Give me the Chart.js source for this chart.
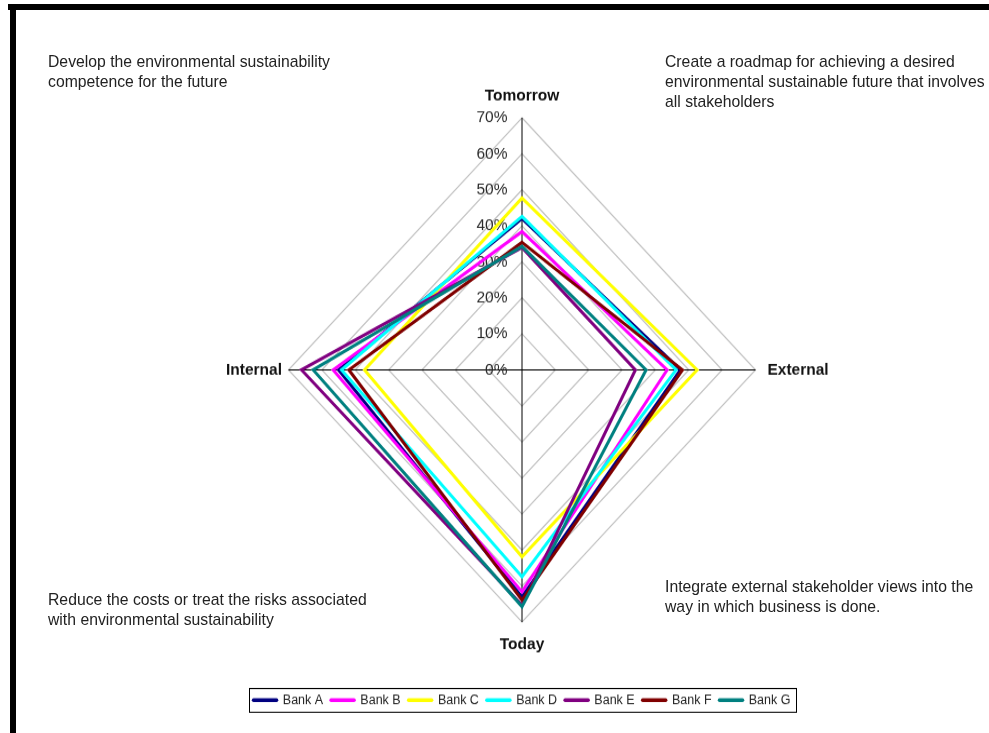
<!DOCTYPE html>
<html>
<head>
<meta charset="utf-8">
<title>Environmental sustainability orientation by bank</title>
<script src="https://cdn.jsdelivr.net/npm/chart.js@4/dist/chart.umd.min.js"></script>
<style>
  html, body { margin: 0; padding: 0; background: #fff; }
  body { width: 989px; height: 733px; position: relative; overflow: hidden;
         font-family: "Liberation Sans", Arial, sans-serif; }
  .frame-top  { position: absolute; left: 8px;  top: 4px; width: 981px; height: 6px; background: #000; }
  .frame-left { position: absolute; left: 10px; top: 4px; width: 6px; height: 729px; background: #000; }
  /* the whole figure is drawn slightly taller than wide */
  #stage { position: absolute; left: 0; top: 0; width: 989px; height: 679px;
           transform: scaleY(1.08); transform-origin: 0 0; }
  #stage canvas { position: absolute; left: 0; top: 0; }
  .note { position: absolute; font-size: 15.75px; line-height: 18.52px; color: #222; white-space: nowrap; }
</style>
</head>
<body>
<div class="frame-top"></div>
<div class="frame-left"></div>
<div id="stage">
  <canvas id="radar" width="989" height="679"></canvas>
  <div class="note" style="left:48px; top:48px;">Develop the environmental sustainability<br>competence for the future</div>
  <div class="note" style="left:665px; top:48px;">Create a roadmap for achieving a desired<br>environmental sustainable future that involves<br>all stakeholders</div>
  <div class="note" style="left:48px; top:546px;">Reduce the costs or treat the risks associated<br>with environmental sustainability</div>
  <div class="note" style="left:665px; top:534px;">Integrate external stakeholder views into the<br>way in which business is done.</div>
</div>
<script>
// Orientation axes, clockwise from the top
const axisLabels = ['Tomorrow', 'External', 'Today', 'Internal'];

// Share of responses per orientation (%)
const bankA = [42.0, 47.5, 63.0, 55.0];
const bankB = [38.4, 43.5, 61.6, 56.6];
const bankC = [47.7, 52.5, 51.9, 47.2];
const bankD = [42.6, 46.2, 57.4, 54.1];
const bankE = [34.0, 34.0, 65.3, 66.1];
const bankF = [35.4, 48.1, 63.9, 51.9];
const bankG = [34.3, 37.2, 65.7, 62.6];

const seriesNames  = ['Bank A', 'Bank B', 'Bank C', 'Bank D', 'Bank E', 'Bank F', 'Bank G'];
const seriesValues = [bankA, bankB, bankC, bankD, bankE, bankF, bankG];
const seriesColors = ['#000080', '#FF00FF', '#FFFF00', '#00FFFF', '#800080', '#800000', '#008080'];

// Radial axis range (%)
const scaleMin = 0;
const scaleMax = 70;
const scaleStep = 10;

const FONT = '"Liberation Sans", Arial, sans-serif';

// Tick labels sit just left of the vertical spoke; axis names sit outside the spokes
const radarText = {
  id: 'radarText',
  beforeDatasetsDraw(chart) {
    const s = chart.scales.r;
    const ctx = chart.ctx;
    ctx.save();
    ctx.font = '15.5px ' + FONT;
    ctx.fillStyle = '#2a2a2a';
    ctx.textAlign = 'right';
    ctx.textBaseline = 'middle';
    s.ticks.forEach(t => {
      const y = s.yCenter - s.getDistanceFromCenterForValue(t.value);
      ctx.fillText(t.label, s.xCenter - 14.5, y);
    });

    ctx.font = 'bold 15.5px ' + FONT;
    ctx.fillStyle = '#111';
    chart.data.labels.forEach((label, i) => {
      const a = s.getIndexAngle(i) - Math.PI / 2;
      const cx = Math.cos(a);
      const align = Math.abs(cx) < 0.01 ? 'center' : (cx > 0 ? 'left' : 'right');
      const gap = align === 'center' ? 20.7 : (align === 'left' ? 12 : 6.5);
      const p = s.getPointPosition(i, s.drawingArea + gap);
      ctx.textAlign = align;
      ctx.fillText(label, p.x, p.y);
    });
    ctx.restore();
  }
};

// Thin frame around the legend row
const legendFrame = {
  id: 'legendFrame',
  afterDraw(chart) {
    const lg = chart.legend;
    if (!lg || !lg.legendHitBoxes || !lg.legendHitBoxes.length) return;
    const boxes = lg.legendHitBoxes;
    const first = boxes[0], last = boxes[boxes.length - 1];
    const left = first.left - 5;
    const right = last.left + last.width + 5;
    const mid = first.top + first.height / 2;
    const ctx = chart.ctx;
    ctx.save();
    ctx.strokeStyle = '#000';
    ctx.lineWidth = 1;
    ctx.strokeRect(Math.round(left) + 0.5, Math.round(mid - 11.1) + 0.5,
                   Math.round(right - left), 22);
    ctx.restore();
  }
};

const datasets = seriesNames.map((name, i) => ({
  label: name,
  data: seriesValues[i],
  borderColor: seriesColors[i],
  backgroundColor: seriesColors[i],
  pointBorderColor: seriesColors[i],
  pointBackgroundColor: seriesColors[i],
  borderWidth: 3,
  borderJoinStyle: 'miter',
  fill: false,
  pointRadius: 0,
  pointHoverRadius: 0,
  order: seriesNames.length - 1 - i   // later banks are drawn over earlier ones
}));

new Chart(document.getElementById('radar'), {
  type: 'radar',
  data: { labels: axisLabels, datasets },
  options: {
    responsive: false,
    animation: false,
    devicePixelRatio: 1,
    layout: { padding: { left: 55, right: 0, top: 0, bottom: 14.6 } },
    elements: { line: { tension: 0 } },
    scales: {
      r: {
        min: scaleMin,
        max: scaleMax,
        beginAtZero: true,
        ticks: {
          stepSize: scaleStep,
          display: false,
          callback: v => v + '%'
        },
        pointLabels: { display: false },
        grid: { color: '#c2c2c2', lineWidth: 1.2 },
        angleLines: { color: '#000', lineWidth: 1 },
        afterFit(scale) {
          scale.xCenter = 522;
          scale.yCenter = 342.5;
          scale.drawingArea = 233.5;
        }
      }
    },
    plugins: {
      tooltip: { enabled: false },
      legend: {
        position: 'bottom',
        labels: {
          usePointStyle: true,
          pointStyle: 'line',
          pointStyleWidth: 23,
          padding: 8,
          color: '#222',
          font: { family: FONT, size: 12.5 },
          sort: (a, b) => a.datasetIndex - b.datasetIndex,
          generateLabels(chart) {
            const base = Chart.defaults.plugins.legend.labels.generateLabels(chart);
            return base.map(item => Object.assign(item, {
              strokeStyle: chart.data.datasets[item.datasetIndex].borderColor,
              lineWidth: 3.5,
              lineCap: 'round',
              pointStyle: 'line'
            }));
          }
        }
      }
    }
  },
  plugins: [radarText, legendFrame]
});
</script>
</body>
</html>
